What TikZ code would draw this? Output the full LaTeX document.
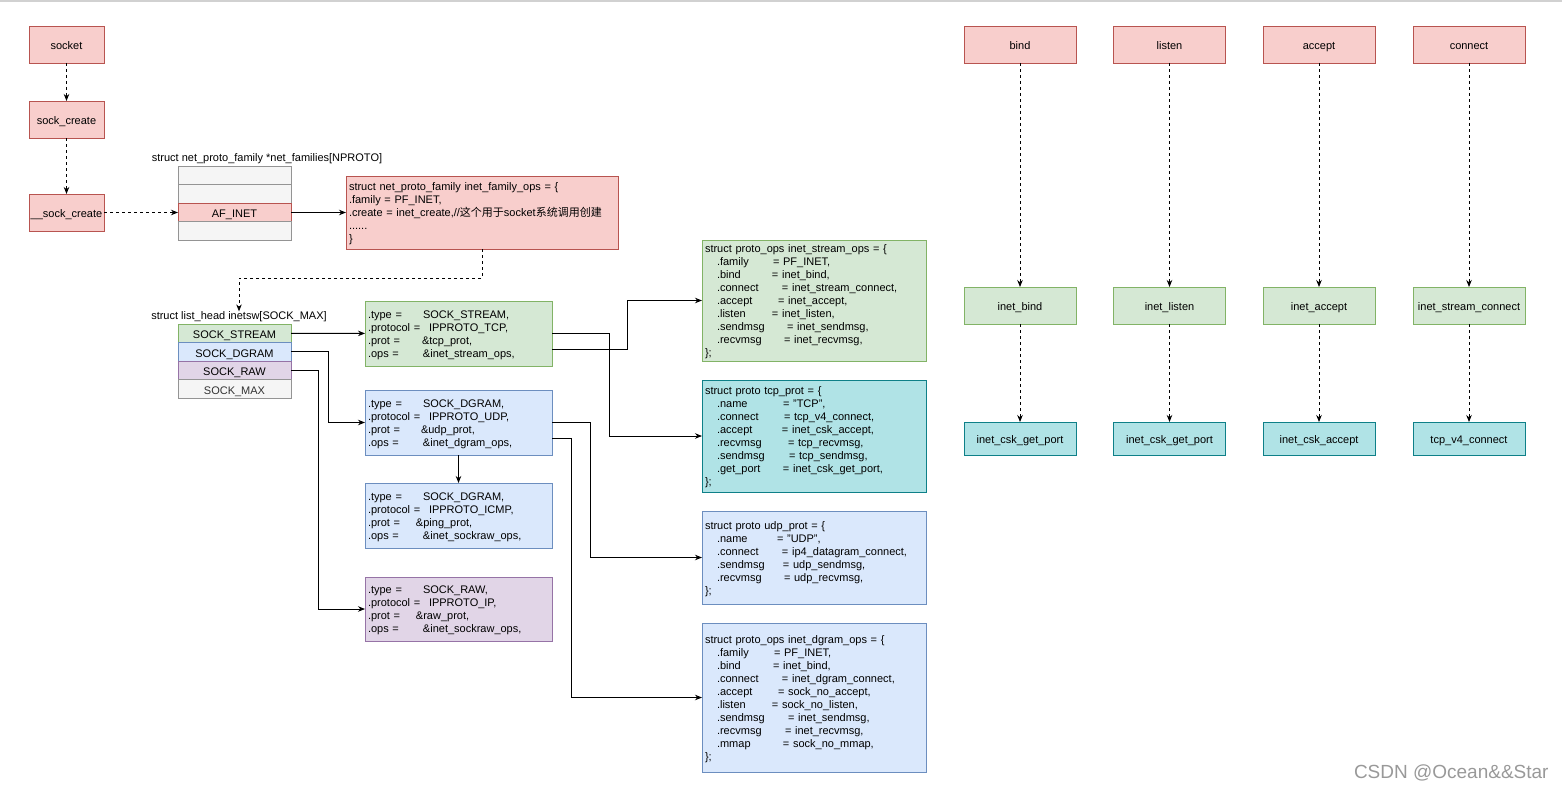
\documentclass[tikz,border=0pt]{standalone}
\usepackage{fontspec}
\setmainfont{Liberation Sans}
\newfontfamily\cjk{Noto Sans CJK SC}
\usepackage{tikz}
\usetikzlibrary{arrows.meta,positioning}

\definecolor{pinkf}{HTML}{F8CECC}
\definecolor{pinkd}{HTML}{B85450}
\definecolor{greenf}{HTML}{D5E8D4}
\definecolor{greend}{HTML}{82B366}
\definecolor{bluef}{HTML}{DAE8FC}
\definecolor{blued}{HTML}{6C8EBF}
\definecolor{purplef}{HTML}{E1D5E7}
\definecolor{purpled}{HTML}{9673A6}
\definecolor{grayf}{HTML}{F5F5F5}
\definecolor{grayd}{HTML}{666666}
\definecolor{tealf}{HTML}{B0E3E6}
\definecolor{teald}{HTML}{0E8088}

% one field of a protosw entry / of an ops table
\newcommand\swfield[3]{\makebox[#1pt][l]{#2}#3}
\newcommand\opfield[3]{\hspace*{12pt}\makebox[#1pt][l]{#2}#3}

\begin{document}
\begin{tikzpicture}[x=1pt,y=-1pt,
  every node/.style={font=\fontsize{11}{13}\selectfont, inner sep=0pt, outer sep=0pt},
  pinkbox/.style={draw=pinkd, fill=pinkf, line width=0.9pt},
  greenbox/.style={draw=greend, fill=greenf, line width=0.9pt},
  bluebox/.style={draw=blued, fill=bluef, line width=0.9pt},
  purplebox/.style={draw=purpled, fill=purplef, line width=0.9pt},
  graybox/.style={draw=grayd!70, fill=grayf, text=black!80, line width=0.9pt},
  tealbox/.style={draw=teald, fill=tealf, line width=0.9pt},
  func/.style={minimum width=75pt, minimum height=37pt, text height=10.5pt, text depth=0pt},
  call/.style={minimum width=112pt, minimum height=37pt, text height=10.5pt, text depth=0pt},
  cell/.style={minimum width=113pt, minimum height=18.6pt, text height=10.5pt, text depth=0pt},
  code/.style={align=left, inner xsep=3pt},
  link/.style={line width=0.9pt, -{Stealth[length=7pt,width=5.5pt]}},
  dashlink/.style={link, dash pattern=on 3pt off 3pt}]

\useasboundingbox (0,0) rectangle (1562,789);
\fill [white] (0,0) rectangle (1562,789);
\fill [black!18] (0,0) rectangle (1562,2);

% socket() call path
\node [func, pinkbox] (socket) at (66.5,44.5) {socket};
\node [func, pinkbox] (sockcreate) at (66.5,119.5) {sock\_create};
\node [func, pinkbox] (sockcreatei) at (66.5,212.5) {\_\_sock\_create};

% net_families[]
\node (nflabel) at (267,158.5) {struct net\_proto\_family *net\_families[NPROTO]};
\node [cell, graybox] (nf1) at (234.5,175.3) {};
\node [cell, graybox, below=0pt of nf1] (nf2) {};
\node [cell, pinkbox, below=0pt of nf2] (afinet) {AF\_INET};
\node [cell, graybox, below=0pt of afinet] (nf4) {};

\node [code, pinkbox, text width=266pt, minimum height=73pt] (famops) at (482,212.5) {%
\rule{0pt}{11pt}struct net\_proto\_family inet\_family\_ops = \{\\
.family = PF\_INET,\\
.create = inet\_create,//{\cjk 这个用于}socket{\cjk 系统调用创建}\\
......\\
\}};

% inetsw[]
\node (swlabel) at (239,316.5) {struct list\_head inetsw[SOCK\_MAX]};
\node [cell, greenbox] (sstream) at (234.5,333.3) {SOCK\_STREAM};
\node [cell, bluebox, below=0pt of sstream] (sdgram) {SOCK\_DGRAM};
\node [cell, purplebox, below=0pt of sdgram] (sraw) {SOCK\_RAW};
\node [cell, graybox, below=0pt of sraw] (smax) {SOCK\_MAX};

\node [code, greenbox, text width=181pt, minimum height=65pt] (streamsw) at (458.5,333.5) {%
\rule{0pt}{11pt}\swfield{55}{.type =}{SOCK\_STREAM,}\\
\swfield{61}{.protocol =}{IPPROTO\_TCP,}\\
\swfield{54}{.prot =}{\&tcp\_prot,}\\
\swfield{55}{.ops =}{\&inet\_stream\_ops,}};
\node [code, bluebox, text width=181pt, minimum height=65pt] (dgramsw) at (458.5,422.5) {%
\rule{0pt}{11pt}\swfield{55}{.type =}{SOCK\_DGRAM,}\\
\swfield{61}{.protocol =}{IPPROTO\_UDP,}\\
\swfield{53}{.prot =}{\&udp\_prot,}\\
\swfield{55}{.ops =}{\&inet\_dgram\_ops,}};
\node [code, bluebox, text width=181pt, minimum height=65pt] (icmpsw) at (458.5,515.5) {%
\rule{0pt}{11pt}\swfield{55}{.type =}{SOCK\_DGRAM,}\\
\swfield{61}{.protocol =}{IPPROTO\_ICMP,}\\
\swfield{48}{.prot =}{\&ping\_prot,}\\
\swfield{55}{.ops =}{\&inet\_sockraw\_ops,}};
\node [code, purplebox, text width=181pt, minimum height=64pt] (rawsw) at (458.5,609) {%
\rule{0pt}{11pt}\swfield{55}{.type =}{SOCK\_RAW,}\\
\swfield{61}{.protocol =}{IPPROTO\_IP,}\\
\swfield{48}{.prot =}{\&raw\_prot,}\\
\swfield{55}{.ops =}{\&inet\_sockraw\_ops,}};

% ops / proto tables
\node [code, greenbox, text width=218pt, minimum height=121pt] (streamops) at (814,300.5) {%
\rule{0pt}{11pt}struct proto\_ops inet\_stream\_ops = \{\\
\opfield{56}{.family}{= PF\_INET,}\\
\opfield{55}{.bind}{= inet\_bind,}\\
\opfield{65}{.connect}{= inet\_stream\_connect,}\\
\opfield{61}{.accept}{= inet\_accept,}\\
\opfield{55}{.listen}{= inet\_listen,}\\
\opfield{70}{.sendmsg}{= inet\_sendmsg,}\\
\opfield{67}{.recvmsg}{= inet\_recvmsg,}\\
\};};
\node [code, tealbox, text width=218pt, minimum height=112pt] (tcpprot) at (814,436) {%
\rule{0pt}{11pt}struct proto tcp\_prot = \{\\
\opfield{66}{.name}{= "TCP",}\\
\opfield{67}{.connect}{= tcp\_v4\_connect,}\\
\opfield{65}{.accept}{= inet\_csk\_accept,}\\
\opfield{71}{.recvmsg}{= tcp\_recvmsg,}\\
\opfield{72}{.sendmsg}{= tcp\_sendmsg,}\\
\opfield{66}{.get\_port}{= inet\_csk\_get\_port,}\\
\};};
\node [code, bluebox, text width=218pt, minimum height=93pt] (udpprot) at (814,557.5) {%
\rule{0pt}{11pt}struct proto udp\_prot = \{\\
\opfield{60}{.name}{= "UDP",}\\
\opfield{65}{.connect}{= ip4\_datagram\_connect,}\\
\opfield{66}{.sendmsg}{= udp\_sendmsg,}\\
\opfield{67}{.recvmsg}{= udp\_recvmsg,}\\
\};};
\node [code, bluebox, text width=218pt, minimum height=149pt] (dgramops) at (814,697.5) {%
\rule{0pt}{11pt}struct proto\_ops inet\_dgram\_ops = \{\\
\opfield{57}{.family}{= PF\_INET,}\\
\opfield{56}{.bind}{= inet\_bind,}\\
\opfield{65}{.connect}{= inet\_dgram\_connect,}\\
\opfield{61}{.accept}{= sock\_no\_accept,}\\
\opfield{55}{.listen}{= sock\_no\_listen,}\\
\opfield{71}{.sendmsg}{= inet\_sendmsg,}\\
\opfield{68}{.recvmsg}{= inet\_recvmsg,}\\
\opfield{66}{.mmap}{= sock\_no\_mmap,}\\
\};};

% system calls
\node [call, pinkbox] (bind) at (1020,44.5) {bind};
\node [call, pinkbox] (listen) at (1169.5,44.5) {listen};
\node [call, pinkbox] (accept) at (1319,44.5) {accept};
\node [call, pinkbox] (connect) at (1469,44.5) {connect};
\node [call, greenbox] (inetbind) at (1020,305.5) {inet\_bind};
\node [call, greenbox] (inetlisten) at (1169.5,305.5) {inet\_listen};
\node [call, greenbox] (inetaccept) at (1319,305.5) {inet\_accept};
\node [call, greenbox] (inetconnect) at (1469,305.5) {inet\_stream\_connect};
\node [call, tealbox, minimum height=33pt] (bindport) at (1020,438.5) {inet\_csk\_get\_port};
\node [call, tealbox, minimum height=33pt] (listenport) at (1169.5,438.5) {inet\_csk\_get\_port};
\node [call, tealbox, minimum height=33pt] (cskaccept) at (1319,438.5) {inet\_csk\_accept};
\node [call, tealbox, minimum height=33pt] (v4connect) at (1469,438.5) {tcp\_v4\_connect};

\node [anchor=west, font=\fontsize{19}{21}\selectfont, text=black!40] (wm) at (1354,772.5) {CSDN @Ocean\&\&Star};

% connectors
\draw [dashlink] (socket) -- (sockcreate);
\draw [dashlink] (sockcreate) -- (sockcreatei);
\draw [dashlink] (sockcreatei) -- (afinet);
\draw [link] (afinet) -- (famops);
\draw [dashlink] (famops.south) -- ++(0,29) -| (swlabel.north);
\draw [link] (sstream) -- (streamsw);
\draw [link] (sdgram.east) -- ++(37,0) |- (dgramsw.west);
\draw [link] (sraw.east) -- ++(27,0) |- (rawsw.west);
\draw [link] (dgramsw) -- (icmpsw);
\draw [link] (streamsw.east) -- ++(57,0) |- (tcpprot.west);
\draw [link] ([yshift=-16pt]streamsw.east) -- ++(75,0) |- (streamops.west);
\draw [link] (dgramsw.east) -- ++(38,0) |- (udpprot.west);
\draw [link] ([yshift=-16pt]dgramsw.east) -- ++(19,0) |- (dgramops.west);
\draw [dashlink] (bind) -- (inetbind);
\draw [dashlink] (listen) -- (inetlisten);
\draw [dashlink] (accept) -- (inetaccept);
\draw [dashlink] (connect) -- (inetconnect);
\draw [dashlink] (inetbind) -- (bindport);
\draw [dashlink] (inetlisten) -- (listenport);
\draw [dashlink] (inetaccept) -- (cskaccept);
\draw [dashlink] (inetconnect) -- (v4connect);
\end{tikzpicture}
\end{document}
